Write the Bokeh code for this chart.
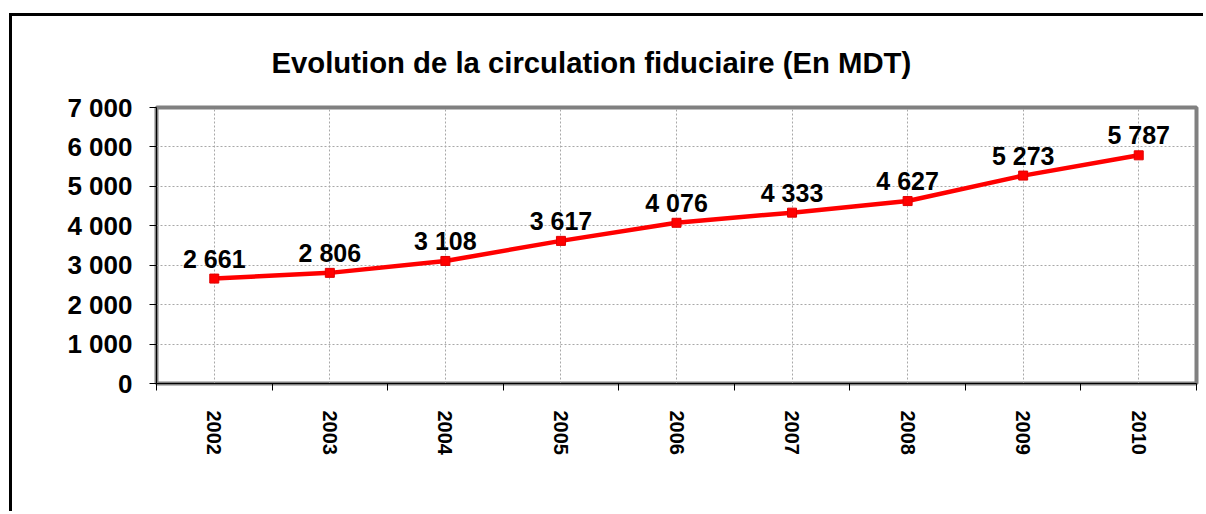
from bokeh.plotting import figure
from bokeh.models import ColumnDataSource, FixedTicker, Range1d
from bokeh.core.properties import value
from bokeh.embed import file_html
from bokeh.resources import INLINE

# ---- data ----
years = ["2002", "2003", "2004", "2005", "2006", "2007", "2008", "2009", "2010"]
values = [2661, 2806, 3108, 3617, 4076, 4333, 4627, 5273, 5787]
y_ticks = [0, 1000, 2000, 3000, 4000, 5000, 6000, 7000]
y_tick_labels = ["0", "1 000", "2 000", "3 000", "4 000", "5 000", "6 000", "7 000"]
title_text = "Evolution de la circulation fiduciaire (En MDT)"

FONT = "Liberation Sans"
W, H = 1194, 498

xs = list(range(len(years)))
labels = [f"{v:,}".replace(",", " ") for v in values]
src = ColumnDataSource(dict(x=xs, y=values, lab=labels))

p = figure(width=W, height=H, output_backend="svg", toolbar_location=None,
           x_range=Range1d(-0.5, len(years) - 0.5), y_range=Range1d(0, 7000),
           min_border_left=144, min_border_right=10, min_border_top=91,
           min_border_bottom=131)
p.styles = {"margin-left": "9px", "margin-top": "13px",
            "border-left": "3px solid black", "border-top": "3px solid black"}
p.background_fill_color = "white"
p.border_fill_color = "white"
p.outline_line_color = "#808080"
p.outline_line_width = 4

# title
p.title.text = title_text
p.title.align = "left"
p.title.offset = 115
p.title.standoff = 54
p.title.vertical_align = "top"
p.title.text_font = FONT
p.title.text_font_style = "bold"
p.title.text_font_size = "29.3px"
p.title.text_color = "black"

# x axis
p.xaxis.ticker = FixedTicker(ticks=xs, minor_ticks=[i - 0.5 for i in range(len(years) + 1)])
p.xaxis.major_label_overrides = {i: y for i, y in zip(xs, years)}
p.xaxis.major_label_orientation = "vertical"
p.xaxis.major_tick_line_color = None
p.xaxis.major_tick_out = 0
p.xaxis.major_tick_in = 0
p.xaxis.minor_tick_line_color = "black"
p.xaxis.minor_tick_out = 7
p.xaxis.minor_tick_in = 0
p.xaxis.major_label_standoff = 20
p.xaxis.major_label_text_font = FONT
p.xaxis.major_label_text_font_style = "bold"
p.xaxis.major_label_text_font_size = "20px"
p.xaxis.major_label_text_color = "black"
p.xaxis.axis_line_color = "black"

# y axis
p.yaxis.ticker = FixedTicker(ticks=y_ticks)
p.yaxis.major_label_overrides = {t: l for t, l in zip(y_ticks, y_tick_labels)}
p.yaxis.minor_tick_line_color = None
p.yaxis.major_tick_out = 7
p.yaxis.major_tick_in = 0
p.yaxis.major_tick_line_color = "black"
p.yaxis.major_label_standoff = 17
p.yaxis.major_label_text_font = FONT
p.yaxis.major_label_text_font_style = "bold"
p.yaxis.major_label_text_font_size = "26px"
p.yaxis.major_label_text_color = "black"
p.yaxis.axis_line_color = "black"

# grids
for g in (p.xgrid, p.ygrid):
    g.grid_line_color = "#a8a8a8"
    g.grid_line_dash = "2 2"
    g.grid_line_width = 1

# line + markers
p.line("x", "y", source=src, line_color="#ff0000", line_width=4.5)
p.scatter("x", "y", source=src, marker="square", size=9,
          fill_color="#ff0000", line_color="#e00000")

# data labels
p.text("x", "y", text="lab", source=src, text_align="center",
       text_baseline="alphabetic", y_offset=-20,
       text_font=value(FONT), text_font_style="bold",
       text_font_size="25px", text_color="black")

open("out.html", "w").write(file_html(p, INLINE))
